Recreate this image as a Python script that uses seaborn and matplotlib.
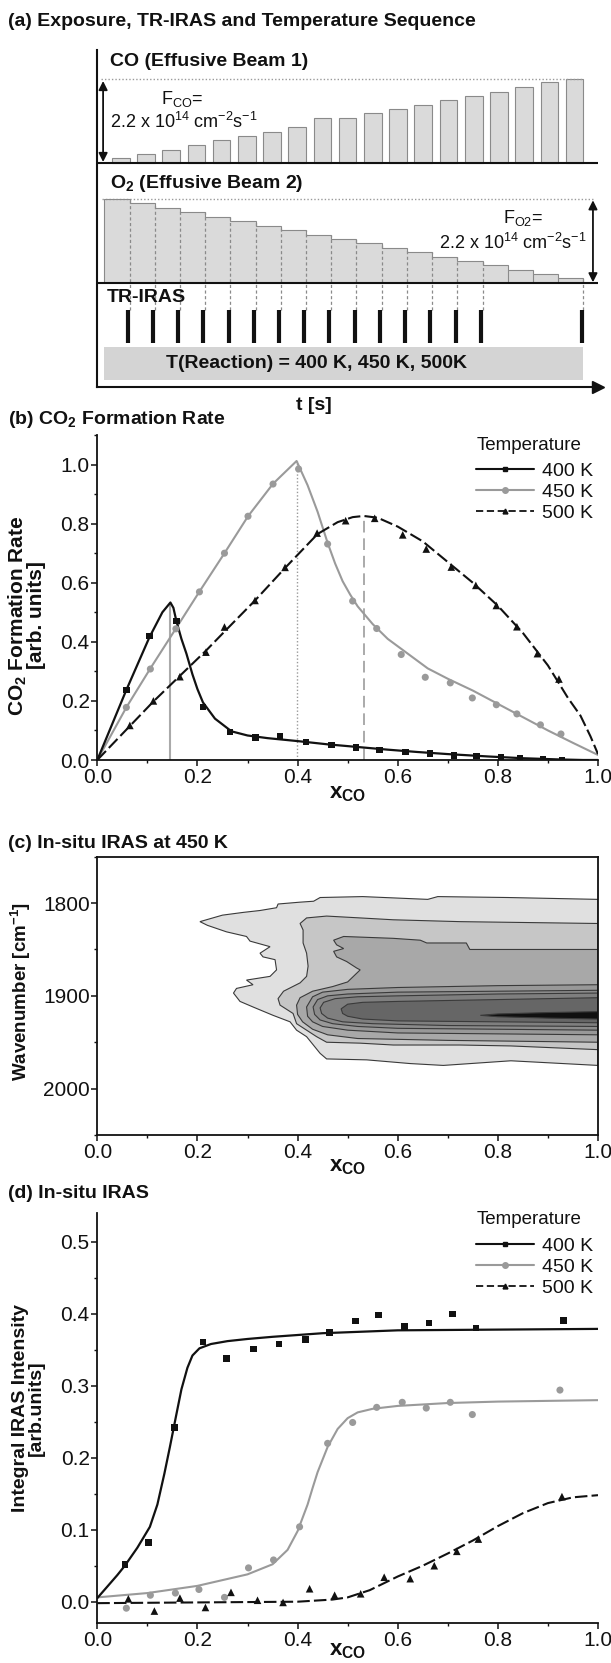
import numpy as np
import matplotlib
matplotlib.use("Agg")
import matplotlib.pyplot as plt
import seaborn as sns
from matplotlib.lines import Line2D
from matplotlib.ticker import MultipleLocator, FormatStrFormatter

# ---------------- data: panel (a) ----------------
co_flux_rel = [0.064, 0.11, 0.16, 0.22, 0.27, 0.32, 0.37, 0.43, 0.53, 0.53,
               0.59, 0.64, 0.69, 0.75, 0.80, 0.85, 0.91, 0.96, 1.00]
o2_flux_rel = [1.00, 0.952, 0.897, 0.85, 0.794, 0.738, 0.687, 0.635, 0.579, 0.528,
               0.476, 0.421, 0.373, 0.317, 0.266, 0.214, 0.163, 0.111, 0.06]
tr_iras_after_pulse = [1, 2, 3, 4, 5, 6, 7, 8, 9, 10, 11, 12, 13, 14, 15, 19]

# ---------------- data: panel (b) ----------------
b400_x = [0.058, 0.104, 0.158, 0.211, 0.265, 0.316, 0.365, 0.417, 0.468, 0.517,
          0.564, 0.616, 0.664, 0.712, 0.757, 0.806, 0.844, 0.890, 0.928]
b400_y = [0.237, 0.420, 0.470, 0.179, 0.095, 0.077, 0.080, 0.061, 0.050, 0.043,
          0.034, 0.027, 0.022, 0.015, 0.013, 0.010, 0.005, 0.001, 0.000]
b400_fit_x = [0, 0.058, 0.104, 0.13, 0.146, 0.152, 0.158, 0.168, 0.178, 0.19, 0.20, 0.211, 0.235,
              0.268, 0.30, 0.34, 0.40, 0.46, 0.52, 0.58, 0.64, 0.70, 0.78, 0.85, 0.92, 0.97, 1.0]
b400_fit_y = [0, 0.237, 0.415, 0.50, 0.533, 0.515, 0.47, 0.41, 0.36, 0.29, 0.24, 0.195, 0.14,
              0.097, 0.083, 0.074, 0.064, 0.053, 0.044, 0.035, 0.027, 0.020, 0.012, 0.006, 0.002, 0.0, 0.0]

b450_x = [0.058, 0.106, 0.157, 0.204, 0.254, 0.301, 0.351, 0.402, 0.460, 0.510,
          0.558, 0.607, 0.655, 0.705, 0.749, 0.797, 0.838, 0.885, 0.926]
b450_y = [0.178, 0.308, 0.444, 0.569, 0.700, 0.825, 0.934, 0.985, 0.731, 0.538,
          0.445, 0.357, 0.280, 0.261, 0.210, 0.187, 0.156, 0.119, 0.088]
b450_fit_x = [0, 0.058, 0.106, 0.157, 0.204, 0.254, 0.301, 0.351, 0.398, 0.42, 0.44,
              0.46, 0.475, 0.49, 0.505, 0.52, 0.55, 0.58, 0.62, 0.66, 0.70, 0.75, 0.80, 0.85,
              0.90, 0.95, 1.0]
b450_fit_y = [0, 0.178, 0.31, 0.445, 0.57, 0.70, 0.825, 0.935, 1.012, 0.93, 0.84,
              0.735, 0.665, 0.605, 0.56, 0.52, 0.46, 0.41, 0.36, 0.31, 0.275, 0.235, 0.19, 0.145,
              0.10, 0.058, 0.017]

b500_x = [0.065, 0.112, 0.165, 0.217, 0.254, 0.315, 0.375, 0.439, 0.496, 0.554,
          0.610, 0.657, 0.707, 0.756, 0.797, 0.838, 0.879, 0.922]
b500_y = [0.117, 0.200, 0.282, 0.365, 0.450, 0.540, 0.652, 0.768, 0.810, 0.818,
          0.762, 0.714, 0.653, 0.591, 0.523, 0.451, 0.360, 0.274]
b500_fit_x = [0, 0.065, 0.112, 0.165, 0.217, 0.26, 0.315, 0.375, 0.44, 0.48, 0.51, 0.532,
              0.56, 0.60, 0.65, 0.70, 0.75, 0.80, 0.85, 0.90, 0.94, 0.965, 0.985, 1.0]
b500_fit_y = [0, 0.115, 0.198, 0.285, 0.37, 0.445, 0.54, 0.65, 0.765, 0.805, 0.822, 0.826,
              0.82, 0.79, 0.74, 0.67, 0.60, 0.522, 0.43, 0.32, 0.21, 0.15, 0.08, 0.02]

peak_x = [0.146, 0.398, 0.532]
peak_y = [0.533, 1.012, 0.826]

# ---------------- data: panel (c) contour levels (x_CO, wavenumber) ----------------
lev1_x = [1.0, 0.82, 0.68, 0.66, 0.53, 0.445, 0.432, 0.405, 0.361, 0.358, 0.325, 0.292, 0.25,
          0.205, 0.22, 0.258, 0.298, 0.305, 0.345, 0.325, 0.331, 0.355, 0.358, 0.345, 0.298,
          0.311, 0.278, 0.272, 0.285, 0.311, 0.351, 0.385, 0.398, 0.418, 0.445, 0.458, 0.538,
          0.625, 0.691, 0.826, 1.0]
lev1_wn = [1796, 1794, 1793, 1796, 1793, 1794, 1798, 1799, 1801, 1805, 1808, 1810, 1813,
           1820, 1824, 1831, 1836, 1841, 1847, 1854, 1858, 1861, 1872, 1879, 1883,
           1888, 1892, 1897, 1906, 1912, 1921, 1928, 1937, 1944, 1962, 1968, 1969,
           1973, 1975, 1970, 1975]
lev2_x = [1.0, 0.724, 0.591, 0.525, 0.458, 0.418, 0.405, 0.411, 0.411, 0.418, 0.421, 0.418,
          0.405, 0.372, 0.361, 0.365, 0.391, 0.398, 0.418, 0.438, 0.458, 0.525, 0.591, 0.724,
          0.826, 1.0]
lev2_wn = [1822, 1820, 1818, 1816, 1814, 1816, 1822, 1829, 1843, 1854, 1868, 1879,
           1886, 1895, 1903, 1910, 1919, 1930, 1937, 1944, 1950, 1951, 1953, 1953,
           1954, 1958]
lev3_x = [1.0, 0.744, 0.737, 0.658, 0.645, 0.591, 0.492, 0.472, 0.478, 0.492, 0.472, 0.478,
          0.498, 0.518, 0.525, 0.50, 0.47, 0.43, 0.405, 0.398, 0.40, 0.41, 0.43, 0.46, 0.52,
          0.70, 1.0]
lev3_wn = [1850, 1850, 1843, 1843, 1840, 1838, 1836, 1840, 1845, 1849, 1852, 1858,
           1863, 1870, 1872, 1885, 1890, 1895, 1902, 1910, 1920, 1928, 1936, 1942, 1946,
           1948, 1950]
lev4_x = [1.0, 0.8, 0.6, 0.5, 0.45, 0.43, 0.418, 0.42, 0.43, 0.45, 0.5, 0.6, 0.8, 1.0]
lev4_wn = [1888, 1889, 1891, 1893, 1896, 1901, 1912, 1922, 1928, 1933, 1937, 1940, 1941, 1942]
lev5_x = [1.0, 0.8, 0.6, 0.5, 0.46, 0.44, 0.431, 0.434, 0.445, 0.47, 0.52, 0.6, 0.8, 1.0]
lev5_wn = [1894, 1895, 1896, 1898, 1900, 1904, 1912, 1920, 1926, 1930, 1933, 1935, 1936, 1937]
lev6_x = [1.0, 0.8, 0.6, 0.52, 0.475, 0.452, 0.445, 0.448, 0.46, 0.49, 0.55, 0.7, 1.0]
lev6_wn = [1897, 1898, 1900, 1901, 1903, 1907, 1913, 1919, 1924, 1928, 1930, 1932, 1933]
lev7_x = [1.0, 0.8, 0.6, 0.53, 0.5, 0.487, 0.49, 0.5, 0.53, 0.6, 0.8, 1.0]
lev7_wn = [1902, 1904, 1906, 1907, 1909, 1914, 1919, 1922, 1925, 1927, 1928, 1929]
lev8_x = [1.0, 0.9, 0.8, 0.765, 0.8, 0.9, 1.0]
lev8_wn = [1917, 1918, 1919.5, 1921, 1922.5, 1924, 1925]

# ---------------- data: panel (d) ----------------
d400_x = [0.055, 0.102, 0.154, 0.211, 0.258, 0.312, 0.363, 0.416, 0.464, 0.516,
          0.562, 0.614, 0.662, 0.709, 0.756, 0.931]
d400_y = [0.052, 0.082, 0.242, 0.361, 0.338, 0.351, 0.358, 0.364, 0.374, 0.390,
          0.398, 0.382, 0.387, 0.400, 0.380, 0.391]
d400_fit_x = [0, 0.04, 0.055, 0.08, 0.105, 0.12, 0.134, 0.145, 0.157, 0.168, 0.18, 0.19,
              0.204, 0.227, 0.26, 0.30, 0.35, 0.45, 0.60, 0.80, 1.0]
d400_fit_y = [0.005, 0.037, 0.05, 0.075, 0.104, 0.135, 0.178, 0.215, 0.257, 0.295, 0.325,
              0.342, 0.352, 0.358, 0.362, 0.365, 0.368, 0.373, 0.377, 0.378, 0.379]

d450_x = [0.058, 0.106, 0.156, 0.203, 0.254, 0.302, 0.352, 0.404, 0.460, 0.510,
          0.558, 0.609, 0.657, 0.705, 0.749, 0.924]
d450_y = [-0.009, 0.009, 0.012, 0.017, 0.006, 0.047, 0.058, 0.104, 0.220, 0.249,
          0.270, 0.277, 0.269, 0.277, 0.260, 0.294]
d450_fit_x = [0, 0.1, 0.2, 0.3, 0.35, 0.38, 0.40, 0.42, 0.43, 0.44, 0.46, 0.48, 0.50,
              0.52, 0.55, 0.60, 0.70, 0.80, 1.0]
d450_fit_y = [0.006, 0.012, 0.022, 0.038, 0.052, 0.072, 0.098, 0.135, 0.158, 0.18, 0.215,
              0.24, 0.255, 0.263, 0.268, 0.272, 0.276, 0.278, 0.28]

d500_x = [0.062, 0.114, 0.165, 0.216, 0.267, 0.320, 0.371, 0.424, 0.474, 0.526,
          0.573, 0.625, 0.673, 0.718, 0.761, 0.928]
d500_y = [0.004, -0.013, 0.005, -0.008, 0.013, 0.002, -0.001, 0.018, 0.009, 0.011,
          0.034, 0.032, 0.050, 0.070, 0.087, 0.146]
d500_fit_x = [0, 0.2, 0.4, 0.47, 0.5, 0.544, 0.6, 0.65, 0.7, 0.75, 0.8, 0.85, 0.9, 0.95, 1.0]
d500_fit_y = [-0.002, -0.001, 0.0, 0.003, 0.006, 0.016, 0.035, 0.05, 0.067, 0.085, 0.105,
              0.123, 0.137, 0.145, 0.148]

temps = ["400 K", "450 K", "500 K"]

# ---------------- style ----------------
sns.set_theme(style="ticks", rc={"text.color": "#111111", "axes.labelcolor": "#111111",
                                 "xtick.color": "#111111", "ytick.color": "#111111",
                                 "axes.edgecolor": "#111111"})
plt.rcParams["font.family"] = ["Liberation Sans", "DejaVu Sans"]
plt.rcParams["mathtext.fontset"] = "custom"
plt.rcParams["mathtext.rm"] = "Liberation Sans"
plt.rcParams["mathtext.it"] = "Liberation Sans:italic"
plt.rcParams["mathtext.bf"] = "Liberation Sans:bold"

W, H = 611, 1663
fig = plt.figure(figsize=(W / 100, H / 100), dpi=100)


def fy(px):
    return 1 - px / H


AX_L = 97.3 / W
AX_W = 500.7 / W
BLACK = "#111111"
GRAY = "#9a9a9a"
DASH = (0, (6, 2))

ax_a = fig.add_axes([AX_L, fy(387), AX_W, 337 / H])
ax_b = fig.add_axes([AX_L, fy(760), AX_W, 325 / H])
ax_c = fig.add_axes([AX_L, fy(1135), AX_W, 278.3 / H])
ax_d = fig.add_axes([AX_L, fy(1623.3), AX_W, 410.3 / H])

# panel titles
for txt, ypx in [("(a) Exposure, TR-IRAS and Temperature Sequence", 22),
                 (r"(b) CO$_\mathbf{2}$ Formation Rate", 420),
                 ("(c) In-situ IRAS at 450 K", 843),
                 ("(d) In-situ IRAS", 1193)]:
    fig.text(8 / W, fy(ypx), txt, fontsize=14, fontweight="bold", va="center", ha="left")

# ================= panel (a) =================
CO_BASE, O2_BASE, FULL = 224.0, 103.7, 84.0
n = len(co_flux_rel)
slots = np.arange(n)
co = np.array(co_flux_rel)
o2 = np.array(o2_flux_rel)
ax_a.set_xlim(-0.28, 19.58)
ax_a.set_ylim(0, 337)
ax_a.set_xticks([])
ax_a.set_yticks([])
for s in ["top", "right"]:
    ax_a.spines[s].set_visible(False)
ax_a.spines["left"].set_linewidth(1.5)
ax_a.spines["bottom"].set_linewidth(1.5)
ax_a.plot([1.0], [0], marker=">", color=BLACK, markersize=8, transform=ax_a.transAxes, clip_on=False)

# CO bars
ax_a.bar(slots + 0.65, co * FULL, width=0.7, bottom=CO_BASE, color="#dadada",
         edgecolor="#8a8a8a", linewidth=0.8, zorder=2)
ax_a.axhline(CO_BASE, color=BLACK, lw=1.5, zorder=3)
ax_a.hlines(CO_BASE + FULL, -0.12, 19.0, color=GRAY, lw=1.0, linestyles=(0, (1, 1.5)))
# O2 bars
ax_a.bar(slots + 0.5, o2 * FULL, width=1.0, bottom=O2_BASE, color="#dadada", linewidth=0, zorder=2)
ax_a.stairs(O2_BASE + o2 * FULL, np.arange(n + 1), baseline=O2_BASE, color="#8a8a8a", lw=0.8, zorder=3)
plain_bounds = [b for b in range(1, n) if b not in tr_iras_after_pulse]
ax_a.vlines(plain_bounds, O2_BASE, [O2_BASE + o2[b] * FULL for b in plain_bounds],
            color="#8a8a8a", lw=0.8, zorder=3)
ax_a.vlines(tr_iras_after_pulse, 77, [O2_BASE + o2[b - 1] * FULL for b in tr_iras_after_pulse],
            color="#8a8a8a", lw=0.9, linestyles=(0, (2.5, 2)), zorder=3)
ax_a.axhline(O2_BASE, color=BLACK, lw=1.5, zorder=4)
ax_a.hlines(O2_BASE + FULL, -0.1, 19.38, color=GRAY, lw=1.0, linestyles=(0, (1, 1.5)))
# TR-IRAS acquisitions
ax_a.vlines(np.array(tr_iras_after_pulse) - 0.07, 44, 77, color=BLACK, lw=3.0, zorder=4)
# temperature box
ax_a.fill_between([0, n], 7, 40, color="#d4d4d4", lw=0, zorder=1)

arrow_kw = dict(arrowstyle="<|-|>", color=BLACK, lw=1.3, shrinkA=0, shrinkB=0, mutation_scale=13)
ax_a.annotate("", xy=(-0.05, CO_BASE + 1), xytext=(-0.05, CO_BASE + FULL - 2), arrowprops=arrow_kw)
ax_a.annotate("", xy=(19.38, O2_BASE + 1), xytext=(19.38, O2_BASE + FULL - 1), arrowprops=arrow_kw)

ax_a.text(0.22, 325, "CO (Effusive Beam 1)", fontsize=14, fontweight="bold", va="center", ha="left")
ax_a.text(0.22, 204, r"O$_\mathbf{2}$ (Effusive Beam 2)", fontsize=14, fontweight="bold", va="center", ha="left")
ax_a.text(3.07, 288, r"F$_{\rm CO}$=", fontsize=13, va="center", ha="center")
ax_a.text(3.14, 265, r"2.2 x 10$^{14}$ cm$^{-2}$s$^{-1}$", fontsize=13, va="center", ha="center")
ax_a.text(16.6, 169, r"F$_{\rm O2}$=", fontsize=13, va="center", ha="center")
ax_a.text(16.2, 144, r"2.2 x 10$^{14}$ cm$^{-2}$s$^{-1}$", fontsize=13, va="center", ha="center")
ax_a.text(0.1, 89, "TR-IRAS", fontsize=14, fontweight="bold", va="center", ha="left", zorder=5)
ax_a.text(8.4, 24, "T(Reaction) = 400 K, 450 K, 500K", fontsize=14, fontweight="bold",
          va="center", ha="center", zorder=5)
fig.text(314 / W, fy(405), "t [s]", fontsize=14, fontweight="bold", va="center", ha="center")


# ================= common axis styling =================
def style(ax, box=False):
    ax.tick_params(which="major", direction="out", length=4, width=1.1, labelsize=15, pad=1.5)
    ax.tick_params(which="minor", direction="out", length=2.2, width=1.0)
    for s in ["left", "bottom"]:
        ax.spines[s].set_linewidth(1.3)
    if box:
        for s in ["top", "right"]:
            ax.spines[s].set_linewidth(1.3)
    else:
        for s in ["top", "right"]:
            ax.spines[s].set_visible(False)
    ax.tick_params(top=False, right=False, which="both")
    ax.set_xlim(0, 1.0)
    ax.xaxis.set_major_locator(MultipleLocator(0.2))
    ax.xaxis.set_minor_locator(MultipleLocator(0.1))
    ax.xaxis.set_major_formatter(FormatStrFormatter("%.1f"))


def legend(ax, ytitle, ytop):
    handles = [Line2D([], [], color=BLACK, lw=1.5, marker="s", ms=3),
               Line2D([], [], color=GRAY, lw=1.5, marker="o", ms=4),
               Line2D([], [], color=BLACK, lw=1.3, ls=(0, (4, 2)), marker="^", ms=3.5)]
    ax.text(0.758, ytitle, "Temperature", transform=ax.transAxes, fontsize=13.5,
            ha="left", va="center")
    ax.legend(handles, temps, loc="upper left", bbox_to_anchor=(0.756, ytop),
              frameon=False, fontsize=14, handlelength=3.0,
              handletextpad=0.4, labelspacing=0.16, borderpad=0, borderaxespad=0)


XLAB = r"$\mathbf{x}_{\mathbf{CO}}$"

# ================= panel (b) =================
style(ax_b)
ax_b.set_ylim(0, 1.1)
ax_b.yaxis.set_major_locator(MultipleLocator(0.2))
ax_b.yaxis.set_minor_locator(MultipleLocator(0.1))
ax_b.yaxis.set_major_formatter(FormatStrFormatter("%.1f"))
ax_b.vlines(peak_x[0], 0, peak_y[0], color="#aaaaaa", lw=1.5, zorder=1)
ax_b.vlines(peak_x[1], 0, peak_y[1], color="#999999", lw=1.0, linestyles=(0, (1, 1.5)), zorder=1)
ax_b.vlines(peak_x[2], 0, peak_y[2], color="#aaaaaa", lw=1.4, linestyles=(0, (6, 3)), zorder=1)
sns.lineplot(x=b450_fit_x, y=b450_fit_y, ax=ax_b, color=GRAY, lw=1.5, legend=False, zorder=2)
sns.lineplot(x=b400_fit_x, y=b400_fit_y, ax=ax_b, color=BLACK, lw=1.6, legend=False, zorder=3)
sns.lineplot(x=b500_fit_x, y=b500_fit_y, ax=ax_b, color=BLACK, lw=1.5, linestyle=DASH, legend=False, zorder=3)
sns.scatterplot(x=b450_x, y=b450_y, ax=ax_b, marker="o", s=26, color=GRAY, edgecolor="none", legend=False, zorder=4)
sns.scatterplot(x=b400_x, y=b400_y, ax=ax_b, marker="s", s=22, color=BLACK, edgecolor="none", legend=False, zorder=5)
sns.scatterplot(x=b500_x, y=b500_y, ax=ax_b, marker="^", s=30, color=BLACK, edgecolor="none", legend=False, zorder=5)
ax_b.set_xlabel(XLAB, fontsize=16)
ax_b.xaxis.set_label_coords(0.5, -33 / 325)
ax_b.xaxis.label.set_va("center")
ax_b.set_ylabel("CO$_\\mathbf{2}$ Formation Rate\n[arb. units]", fontsize=15, fontweight="bold", linespacing=0.85)
ax_b.yaxis.set_label_coords(-0.142, 0.445)
ax_b.yaxis.label.set_va("center")
legend(ax_b, 0.969, 0.915)

# ================= panel (c) =================
style(ax_c, box=True)
ax_c.set_ylim(2050, 1750)
ax_c.yaxis.set_major_locator(MultipleLocator(100))
ax_c.yaxis.set_minor_locator(MultipleLocator(50))
levels = [(lev1_x, lev1_wn, "#e0e0e0"), (lev2_x, lev2_wn, "#c6c6c6"), (lev3_x, lev3_wn, "#a8a8a8"),
          (lev4_x, lev4_wn, "#989898"), (lev5_x, lev5_wn, "#8b8b8b"), (lev6_x, lev6_wn, "#7f7f7f"),
          (lev7_x, lev7_wn, "#666666"), (lev8_x, lev8_wn, "#101010")]
for lx, lw_, col in levels:
    ax_c.fill(lx, lw_, facecolor=col, edgecolor="#3a3a3a", linewidth=0.8, zorder=2)
ax_c.set_xlabel(XLAB, fontsize=16)
ax_c.xaxis.set_label_coords(0.5, -31.7 / 278.3)
ax_c.xaxis.label.set_va("center")
ax_c.set_ylabel("Wavenumber [cm$^{\\mathbf{-1}}$]", fontsize=13.5, fontweight="bold")
ax_c.yaxis.set_label_coords(-0.152, 0.514)
ax_c.yaxis.label.set_va("center")

# ================= panel (d) =================
style(ax_d)
ax_d.set_ylim(-0.03, 0.54)
ax_d.yaxis.set_major_locator(MultipleLocator(0.1))
ax_d.yaxis.set_minor_locator(MultipleLocator(0.05))
ax_d.yaxis.set_major_formatter(FormatStrFormatter("%.1f"))
sns.lineplot(x=d400_fit_x, y=d400_fit_y, ax=ax_d, color=BLACK, lw=1.6, legend=False, zorder=3)
sns.lineplot(x=d450_fit_x, y=d450_fit_y, ax=ax_d, color=GRAY, lw=1.5, legend=False, zorder=2)
sns.lineplot(x=d500_fit_x, y=d500_fit_y, ax=ax_d, color=BLACK, lw=1.5, linestyle=DASH, legend=False, zorder=3)
sns.scatterplot(x=d450_x, y=d450_y, ax=ax_d, marker="o", s=26, color=GRAY, edgecolor="none", legend=False, zorder=4)
sns.scatterplot(x=d400_x, y=d400_y, ax=ax_d, marker="s", s=22, color=BLACK, edgecolor="none", legend=False, zorder=5)
sns.scatterplot(x=d500_x, y=d500_y, ax=ax_d, marker="^", s=30, color=BLACK, edgecolor="none", legend=False, zorder=5)
ax_d.set_xlabel(XLAB, fontsize=16)
ax_d.xaxis.set_label_coords(0.5, -27 / 410.3)
ax_d.xaxis.label.set_va("center")
ax_d.set_ylabel("Integral IRAS Intensity\n[arb.units]", fontsize=14, fontweight="bold", linespacing=0.9)
ax_d.yaxis.set_label_coords(-0.138, 0.525)
ax_d.yaxis.label.set_va("center")
legend(ax_d, 0.983, 0.940)

fig.savefig("out.png", dpi=100)
